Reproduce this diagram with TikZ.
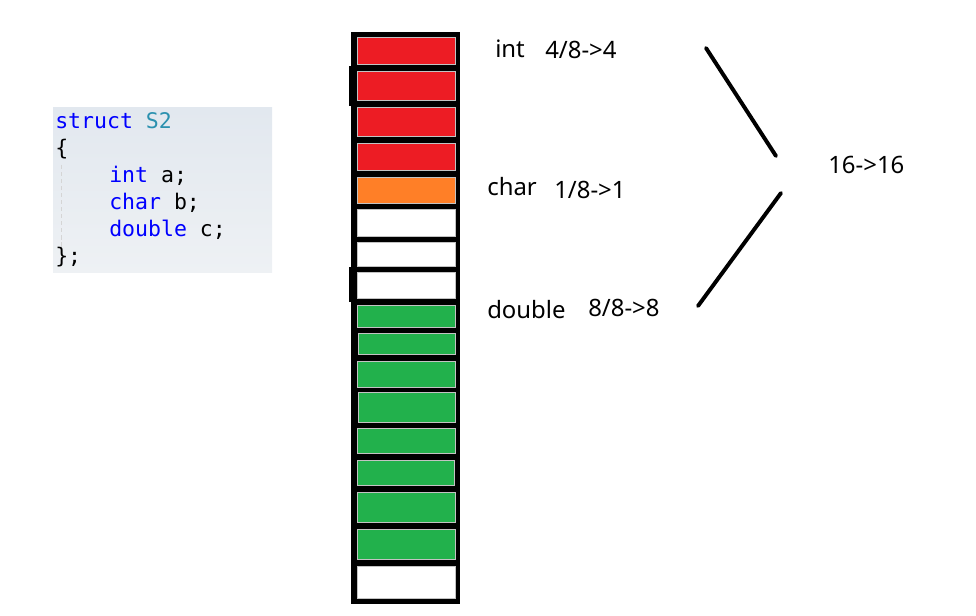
\documentclass[tikz,border=0pt]{standalone}
\usepackage{fontspec}
\setmainfont{Noto Sans}
\setmonofont{DejaVu Sans Mono}
\usepackage{tikz}
\usetikzlibrary{arrows.meta,calc,positioning}
\definecolor{CellRed}{HTML}{ED1C24}
\definecolor{CellOrange}{HTML}{FF7F27}
\definecolor{CellGreen}{HTML}{22B14C}
\definecolor{CellEdge}{HTML}{C3C3C3}
\definecolor{CodeBlue}{HTML}{0000FF}
\definecolor{CodeTeal}{HTML}{2B91AF}
\definecolor{PanelTop}{HTML}{E2E8EF}
\definecolor{PanelBottom}{HTML}{EEF1F4}
\newcommand{\kw}[1]{\textcolor{CodeBlue}{#1}}
\tikzset{
  cell/.style={draw=CellEdge, line width=0.6pt},
  codeline/.style={anchor=base west, inner sep=0pt, font=\ttfamily\fontsize{15.3}{18}\selectfont},
  label/.style={anchor=base west, inner sep=0pt, font=\fontsize{17}{20}\selectfont},
  brace/.style={line width=2.8pt, line cap=round},
}

\begin{document}
\begin{tikzpicture}[x=0.025cm, y=-0.025cm]
\useasboundingbox (0,0) rectangle (976,616);
% code panel
\shade[top color=PanelTop, bottom color=PanelBottom] (53,108) rectangle (272,273);
\draw[CellEdge!70, densely dashed, line width=0.5pt] (61,165) -- (61,255);
\node[codeline] (l1) at (55,129) {\kw{struct} \textcolor{CodeTeal}{S2}};
\node[codeline] (l2) at (55,156) {\{};
\node[codeline] (l3) at (109,183) {\kw{int} a;};
\node[codeline] (l4) at (109,210) {\kw{char} b;};
\node[codeline] (l5) at (109,237) {\kw{double} c;};
\node[codeline] (l6) at (55,264) {\};};
% memory column
\fill[black] (351,32) rectangle (460,604);
\fill[black] (349,66) rectangle (352,106);
\fill[black] (349,267) rectangle (352,302);
\draw[cell, fill=CellRed] (357,37) rectangle (455,64);
\draw[cell, fill=CellRed] (357,71) rectangle (455,100);
\draw[cell, fill=CellRed] (357,107) rectangle (455,136);
\draw[cell, fill=CellRed] (357,143) rectangle (455,170);
\draw[cell, fill=CellOrange] (357,177) rectangle (455,203);
\draw[cell, fill=white] (357,209) rectangle (455,236);
\draw[cell, fill=white] (357,242) rectangle (455,266);
\draw[cell, fill=white] (357,272) rectangle (455,298);
\draw[cell, fill=CellGreen] (357,305) rectangle (455,327);
\draw[cell, fill=CellGreen] (358,333) rectangle (455,354);
\draw[cell, fill=CellGreen] (357,361) rectangle (455,387);
\draw[cell, fill=CellGreen] (358,392) rectangle (455,422);
\draw[cell, fill=CellGreen] (357,428) rectangle (455,453);
\draw[cell, fill=CellGreen] (357,460) rectangle (454,485);
\draw[cell, fill=CellGreen] (357,492) rectangle (455,522);
\draw[cell, fill=CellGreen] (357,529) rectangle (455,559);
\draw[cell, fill=white] (357,566) rectangle (455,598);
% member labels
\node[label] (intname) at (495,58) {int};
\node[label] (intsize) at (545,59) {4/8->4};
\node[label] (charname) at (487,196) {char};
\node[label] (charsize) at (554,199) {1/8->1};
\node[label] (dblname) at (487,319) {double};
\node[label] (dblsize) at (588,317) {8/8->8};
\node[label] (total) at (828,174) {16->16};
% bracket lines
\coordinate (upA) at (706,48);
\coordinate (upB) at (776,156);
\coordinate (loA) at (781,193);
\coordinate (loB) at (698,306);
\draw[brace] (upA) -- (upB);
\draw[brace] (loA) -- (loB);
\end{tikzpicture}
\end{document}
